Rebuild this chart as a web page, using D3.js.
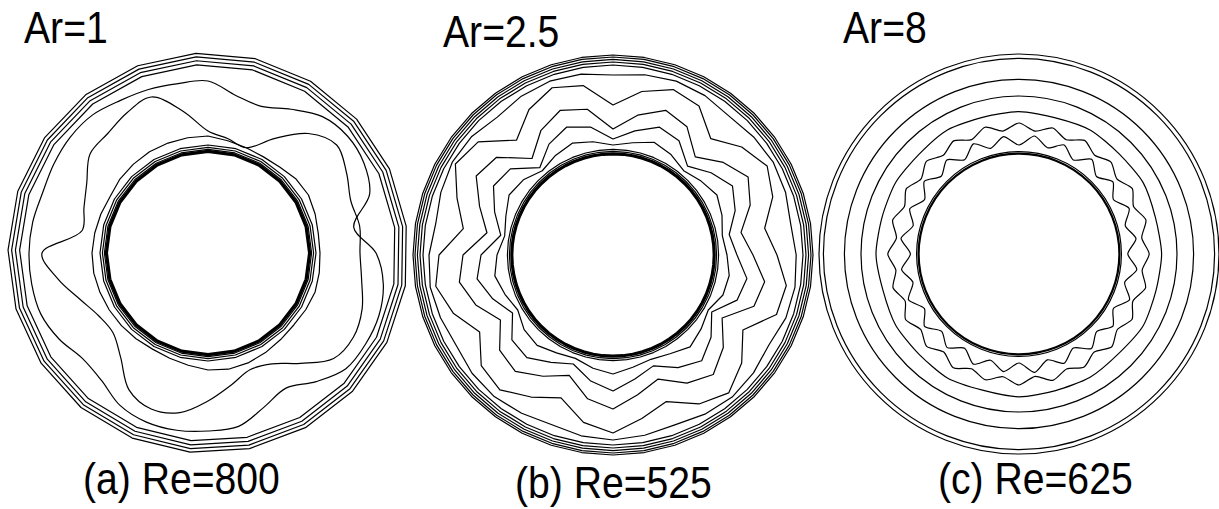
<!DOCTYPE html>
<html>
<head>
<meta charset="utf-8">
<script src="https://d3js.org/d3.v7.min.js"></script>
<style>
  body { margin: 0; background: #fff; }
  text { font-family: "Liberation Sans", Arial, sans-serif; fill: #000; }
</style>
</head>
<body>
<script>
// ---- labels ----
var titleLabels = ["Ar=1", "Ar=2.5", "Ar=8"]
var caseLabels = ["(a) Re=800", "(b) Re=525", "(c) Re=625"]

// ---- contour data ----
// radii are scaled by the outer wall radius (1 = outer wall)
// closed contours are sampled at equal angles, clockwise from 12 o'clock

// (a) Ar=1
var ringsA = [1.0, 0.982, 0.963, 0.942]
var bandA = [0.86, 0.80, 0.78, 0.83, 0.89, 0.91, 0.90, 0.86, 0.74, 0.84, 0.89, 0.91,
             0.91, 0.90, 0.84, 0.78, 0.82, 0.88, 0.89, 0.90, 0.90, 0.88, 0.83, 0.82,
             0.86, 0.89, 0.895, 0.895, 0.89, 0.88, 0.89, 0.90, 0.90, 0.88, 0.87, 0.86]
var lobesA = [0.61, 0.58, 0.56, 0.66, 0.78, 0.84, 0.80, 0.76, 0.77, 0.76, 0.78, 0.82,
              0.84, 0.82, 0.72, 0.64, 0.62, 0.67, 0.74, 0.81, 0.83, 0.79, 0.68, 0.62,
              0.63, 0.68, 0.76, 0.83, 0.64, 0.66, 0.70, 0.77, 0.78, 0.81, 0.83, 0.72]
var nearInnerA = [0.585, 0.57, 0.56, 0.555, 0.56, 0.575, 0.58, 0.57, 0.56, 0.56, 0.565, 0.57,
                  0.565, 0.56, 0.565, 0.575, 0.585, 0.59, 0.585, 0.57, 0.56, 0.555, 0.56, 0.565,
                  0.57, 0.575, 0.58, 0.58, 0.575, 0.57, 0.565, 0.575, 0.58, 0.585, 0.585, 0.585]
var innerRingsA = [0.54, 0.528, 0.518]
var wallA = 0.508

// (b) Ar=2.5
var ringsB = [1.0, 0.99, 0.978, 0.965, 0.95]
var bandB = [0.90, 0.915, 0.925, 0.92, 0.905, 0.918, 0.926, 0.918, 0.902, 0.916, 0.924, 0.92,
             0.90, 0.917, 0.927, 0.919, 0.904, 0.915, 0.925, 0.918, 0.902, 0.914, 0.924, 0.92,
             0.905, 0.918, 0.928, 0.92, 0.9, 0.916, 0.928, 0.922, 0.90, 0.917, 0.925, 0.918]
var wavesB = [
  [0.75, 0.83, 0.88, 0.86, 0.76, 0.84, 0.89, 0.85, 0.77, 0.82, 0.88, 0.87,
   0.75, 0.84, 0.90, 0.86, 0.78, 0.83, 0.89, 0.85, 0.76, 0.82, 0.88, 0.86,
   0.77, 0.85, 0.90, 0.87, 0.76, 0.83, 0.91, 0.88, 0.75, 0.84, 0.89, 0.86],
  [0.63, 0.71, 0.77, 0.74, 0.64, 0.72, 0.78, 0.73, 0.65, 0.70, 0.77, 0.75,
   0.63, 0.72, 0.78, 0.74, 0.66, 0.71, 0.77, 0.73, 0.64, 0.70, 0.76, 0.74,
   0.65, 0.73, 0.78, 0.75, 0.64, 0.71, 0.79, 0.76, 0.63, 0.72, 0.77, 0.74],
  [0.58, 0.63, 0.68, 0.66, 0.58, 0.64, 0.69, 0.65, 0.59, 0.62, 0.68, 0.66,
   0.57, 0.64, 0.69, 0.65, 0.59, 0.63, 0.68, 0.64, 0.58, 0.62, 0.67, 0.66,
   0.58, 0.64, 0.69, 0.66, 0.57, 0.63, 0.69, 0.67, 0.57, 0.64, 0.68, 0.65],
  [0.55, 0.57, 0.60, 0.58, 0.55, 0.575, 0.60, 0.58, 0.555, 0.57, 0.59, 0.585,
   0.55, 0.575, 0.60, 0.57, 0.555, 0.57, 0.595, 0.575, 0.55, 0.565, 0.59, 0.58,
   0.55, 0.575, 0.60, 0.58, 0.55, 0.57, 0.60, 0.585, 0.55, 0.575, 0.595, 0.575]
]
var innerRingsB = [0.528, 0.518]
var wallB = 0.506

// (c) Ar=8
var ringsC = [1.0, 0.978, 0.873, 0.79]
var ripplesC = [
  [0.712, 0.705, 0.715, 0.708, 0.716, 0.706, 0.713, 0.709, 0.717, 0.704, 0.711, 0.707,
   0.714, 0.705, 0.716, 0.708, 0.712, 0.704, 0.715, 0.709, 0.713, 0.706, 0.716, 0.707],
  [0.655, 0.62, 0.652, 0.618, 0.656, 0.622, 0.65, 0.617, 0.654, 0.62, 0.657, 0.619,
   0.651, 0.621, 0.655, 0.616, 0.653, 0.62, 0.656, 0.618, 0.652, 0.622, 0.654, 0.617,
   0.655, 0.619, 0.651, 0.621, 0.657, 0.618, 0.653, 0.62, 0.655, 0.616, 0.652, 0.621,
   0.656, 0.618, 0.654, 0.62, 0.651, 0.617, 0.655, 0.622, 0.653, 0.619, 0.656, 0.62],
  [0.545, 0.595, 0.55, 0.59, 0.543, 0.597, 0.548, 0.592, 0.545, 0.596, 0.55, 0.59,
   0.544, 0.594, 0.547, 0.598, 0.545, 0.592, 0.549, 0.595, 0.543, 0.591, 0.548, 0.597,
   0.545, 0.593, 0.55, 0.596, 0.544, 0.59, 0.547, 0.595, 0.546, 0.598, 0.549, 0.592,
   0.543, 0.595, 0.548, 0.591, 0.545, 0.597, 0.55, 0.593, 0.544, 0.596, 0.547, 0.592]
]
var innerRingsC = [0.512]
var wallC = 0.502

// ---- drawing ----
var width = 1219, height = 509
var R = 200
var rScale = d3.scaleLinear().domain([0, 1]).range([0, R])

var svg = d3.select("body").append("svg")
  .attr("width", width)
  .attr("height", height)

function closedPath(radii, curve, offset) {
  var n = radii.length
  offset = offset || 0
  return d3.lineRadial()
    .angle(function(d, i) { return offset + i / n * 2 * Math.PI })
    .radius(function(d) { return rScale(d) })
    .curve(curve)(radii)
}

function polygon(r, sides) {
  return d3.range(sides).map(function() { return r })
}

function addPath(g, d, w) {
  g.append("path")
    .attr("d", d)
    .attr("fill", "none")
    .attr("stroke", "#000")
    .attr("stroke-width", w || 1.2)
    .attr("stroke-linejoin", "round")
}

function addCircle(g, r, w) {
  g.append("circle").attr("r", rScale(r))
    .attr("fill", "none").attr("stroke", "#000").attr("stroke-width", w || 1.2)
}

// panel a
var gA = svg.append("g").attr("transform", "translate(208,253)")
ringsA.forEach(function(r) { addPath(gA, closedPath(polygon(r, 21), d3.curveLinearClosed, -0.06)) })
addPath(gA, closedPath(bandA, d3.curveCatmullRomClosed.alpha(0.5)))
addPath(gA, closedPath(lobesA, d3.curveCatmullRomClosed.alpha(0.5)))
addPath(gA, closedPath(nearInnerA, d3.curveLinearClosed))
innerRingsA.forEach(function(r) { addPath(gA, closedPath(polygon(r, 24), d3.curveLinearClosed)) })
addPath(gA, closedPath(polygon(wallA, 24), d3.curveLinearClosed), 3.2)

// panel b
var gB = svg.append("g").attr("transform", "translate(613,255)")
ringsB.forEach(function(r) { addPath(gB, closedPath(polygon(r, 40), d3.curveLinearClosed)) })
addPath(gB, closedPath(bandB, d3.curveLinearClosed))
wavesB.forEach(function(w) { addPath(gB, closedPath(w, d3.curveLinearClosed)) })
innerRingsB.forEach(function(r) { addPath(gB, closedPath(polygon(r, 48), d3.curveLinearClosed)) })
addPath(gB, closedPath(polygon(wallB, 64), d3.curveLinearClosed), 3.2)

// panel c
var gC = svg.append("g").attr("transform", "translate(1019,254)")
ringsC.forEach(function(r) { addCircle(gC, r) })
ripplesC.forEach(function(w) { addPath(gC, closedPath(w, d3.curveCardinalClosed.tension(0.3))) })
innerRingsC.forEach(function(r) { addCircle(gC, r) })
addCircle(gC, wallC, 2.2)

// labels (slightly condensed, like the original Helvetica)
var titleX = [24, 443, 843], titleY = [43, 47, 43]
var caseX = [83, 515, 938], caseY = [494, 498, 494]

svg.selectAll(".title").data(titleLabels).enter().append("text")
  .attr("class", "title")
  .attr("transform", function(d, i) { return "translate(" + titleX[i] + "," + titleY[i] + ") scale(0.87,1)" })
  .attr("font-size", 45)
  .text(function(d) { return d })

svg.selectAll(".case").data(caseLabels).enter().append("text")
  .attr("class", "case")
  .attr("transform", function(d, i) { return "translate(" + caseX[i] + "," + caseY[i] + ") scale(0.87,1)" })
  .attr("font-size", 45)
  .text(function(d) { return d })
</script>
</body>
</html>
